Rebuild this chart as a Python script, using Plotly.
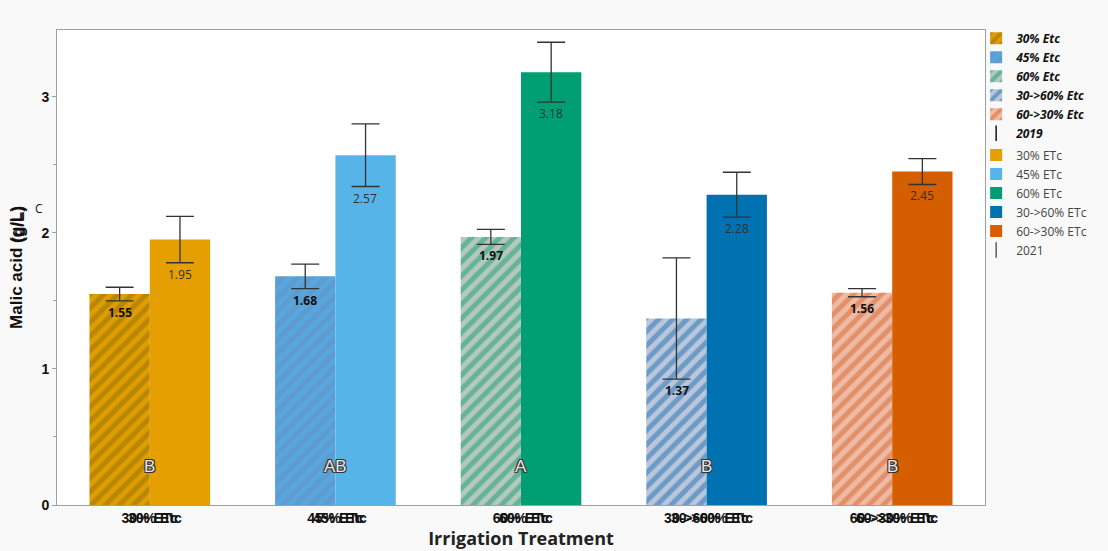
import plotly.graph_objects as go

# Irrigation treatments (x categories) and legend names
treatments = ["30% ETc", "45% ETc", "60% ETc", "30->60% ETc", "60->30% ETc"]
names_2019 = ["30% Etc", "45% Etc", "60% Etc", "30->60% Etc", "60->30% Etc"]
names_2021 = ["30% ETc", "45% ETc", "60% ETc", "30->60% ETc", "60->30% ETc"]

# Malic acid (g/L) means and error half-widths per season
malic_2019 = [1.55, 1.68, 1.97, 1.37, 1.56]
err_2019 = [0.05, 0.09, 0.055, 0.445, 0.03]
malic_2021 = [1.95, 2.57, 3.18, 2.28, 2.45]
err_2021 = [0.17, 0.23, 0.22, 0.165, 0.095]

# Significance letters
letters = ["B", "AB", "A", "B", "B"]
letter_level = 0.28

# Colours
solid_colors = ["#E69F00", "#56B4E9", "#009E73", "#0072B2", "#D55E00"]
stripe_fg = ["#93700C", "#50B0EA", "#1A9E70", "#1E6FB4", "#DA6630"]
stripe_bg = ["#DE9D00", "#5E9CD0", "#B4C8BE", "#BAC6DA", "#EDBBA4"]

BAR_W = 0.325
fig = go.Figure()

for i, t in enumerate(treatments):
    fig.add_trace(go.Bar(
        x=[t], y=[malic_2019[i]], width=BAR_W, offset=-BAR_W,
        name="<b><i>%s</i></b>" % names_2019[i], legend="legend",
        marker=dict(color=stripe_bg[i], line=dict(width=0),
                    pattern=dict(shape="/", fgcolor=stripe_fg[i], bgcolor=stripe_bg[i],
                                 size=10, solidity=0.5)),
        error_y=dict(type="data", array=[err_2019[i]], color="#333333", thickness=1.3, width=14),
        hoverinfo="y",
    ))
fig.add_trace(go.Scatter(
    x=[None], y=[None], mode="markers", name="<b><i>2019</i></b>", legend="legend",
    marker=dict(symbol="line-ns-open", size=11, color="#222", line=dict(width=1.6, color="#222")),
))

for i, t in enumerate(treatments):
    fig.add_trace(go.Bar(
        x=[t], y=[malic_2021[i]], width=BAR_W, offset=0,
        name=names_2021[i], legend="legend2",
        marker=dict(color=solid_colors[i], line=dict(width=0)),
        error_y=dict(type="data", array=[err_2021[i]], color="#333333", thickness=1.3, width=14),
        hoverinfo="y",
    ))
fig.add_trace(go.Scatter(
    x=[None], y=[None], mode="markers", name="2021", legend="legend2",
    marker=dict(symbol="line-ns-open", size=11, color="#444", line=dict(width=1.3, color="#444")),
))

# Value labels just below the lower whisker
for i, t in enumerate(treatments):
    fig.add_annotation(
        x=t, y=malic_2019[i] - err_2019[i], xref="x", yref="y", xshift=-30,
        yanchor="top", yshift=-1, showarrow=False,
        text="<b>%.2f</b>" % malic_2019[i],
        font=dict(family="Open Sans", size=12, color="#111"),
    )
    fig.add_annotation(
        x=t, y=malic_2021[i] - err_2021[i], xref="x", yref="y", xshift=30,
        yanchor="top", yshift=-1, showarrow=False,
        text="%.2f" % malic_2021[i],
        font=dict(family="Open Sans", size=12, color="#333"),
    )
    fig.add_annotation(
        x=t, y=letter_level, xref="x", yref="y", showarrow=False,
        text=letters[i],
        font=dict(family="Liberation Sans", size=17, color="#E6E6E6",
                  shadow="1px 1px 0 #333, -1px -1px 0 #333, 1px -1px 0 #333, -1px 1px 0 #333"),
    )
    # second, slightly offset copy of the category label
    fig.add_annotation(
        x=t, y=0, xref="x", yref="y", yanchor="top", yshift=-3, xshift=5, showarrow=False,
        text="<b>%s</b>" % names_2019[i],
        font=dict(family="Liberation Sans", size=14, color="#111"),
    )

# overlapping fragments on the y title
fig.add_annotation(
    xref="paper", yref="paper", x=-0.041, y=0.592, xanchor="center", yanchor="middle",
    text="<b>(g/L)</b>", textangle=-90, showarrow=False,
    font=dict(family="Liberation Sans", size=17, color="#111"),
)
fig.add_annotation(
    xref="paper", yref="paper", x=-0.026, y=0.625, showarrow=False, text="C",
    font=dict(family="Open Sans", size=12, color="#111"),
)

fig.update_layout(
    width=1108, height=551,
    margin=dict(l=57, r=123, t=30, b=46, autoexpand=False),
    paper_bgcolor="#F9F9F9", plot_bgcolor="white",
    barmode="overlay", bargap=0.35,
    showlegend=True,
    legend=dict(xref="container", yref="container", x=0.881, y=0.957,
                xanchor="left", yanchor="top", bgcolor="rgba(0,0,0,0)",
                itemwidth=30, traceorder="normal",
                font=dict(family="Open Sans", size=12, color="#111")),
    legend2=dict(xref="container", yref="container", x=0.881, y=0.745,
                 xanchor="left", yanchor="top", bgcolor="rgba(0,0,0,0)",
                 itemwidth=30, traceorder="normal",
                 font=dict(family="Open Sans", size=12, color="#444")),
    xaxis=dict(
        type="category", categoryorder="array", categoryarray=treatments,
        showline=True, linecolor="#A0A0A0", linewidth=1, mirror=True,
        ticks="", showgrid=False,
        tickfont=dict(family="Liberation Sans", size=14, color="#111"),
        tickvals=treatments, ticktext=["<b>%s</b>" % t for t in treatments],
        title=dict(text="<b>Irrigation Treatment</b>", standoff=6,
                   font=dict(family="Open Sans", size=18, color="#222")),
    ),
    yaxis=dict(
        range=[0, 3.49], dtick=1, showgrid=False, zeroline=False,
        showline=True, linecolor="#A0A0A0", linewidth=1, mirror=True,
        ticks="outside", ticklen=4, tickcolor="#A0A0A0",
        minor=dict(dtick=0.5, ticks="outside", ticklen=3, tickcolor="#A0A0A0"),
        tickfont=dict(family="Liberation Sans", size=14, color="#111"),
        tickprefix="<b>", ticksuffix="</b>",
        title=dict(text="<b>Malic acid (g/L)</b>", standoff=14,
                   font=dict(family="Liberation Sans", size=17, color="#111")),
    ),
)

fig.write_html("out.html")
